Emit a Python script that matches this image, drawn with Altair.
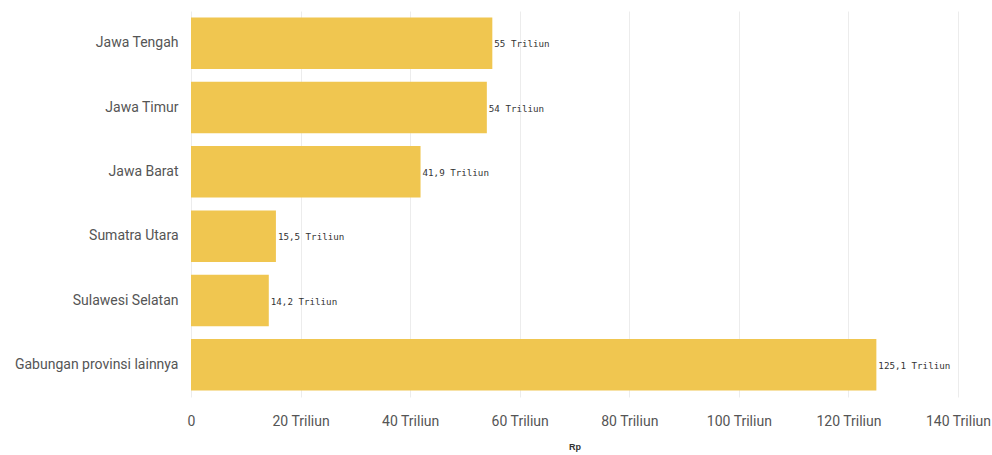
import altair as alt
import pandas as pd

provinces = ["Jawa Tengah", "Jawa Timur", "Jawa Barat", "Sumatra Utara",
             "Sulawesi Selatan", "Gabungan provinsi lainnya"]
values = [55, 54, 41.9, 15.5, 14.2, 125.1]


def fmt(v):
    s = ("%g" % v).replace(".", ",")
    return s + " Triliun"


df = pd.DataFrame({"prov": provinces, "val": values,
                   "lbl": [fmt(v) for v in values]})

base = alt.Chart(df)

bars = base.mark_bar(color="#F0C650").encode(
    x=alt.X("val:Q",
            scale=alt.Scale(domain=[0, 140], nice=False),
            axis=alt.Axis(values=[0, 20, 40, 60, 80, 100, 120, 140],
                          labelExpr="datum.value == 0 ? '0' : datum.value + ' Triliun'",
                          title="Rp", titleFontSize=9, titleFontWeight="bold",
                          titleColor="#333", titlePadding=14,
                          labelFont="Roboto", labelFontSize=14, labelColor="#555",
                          labelFlush=False, labelOverlap=False,
                          labelPadding=17, domain=False, ticks=False,
                          grid=True, gridColor="#ececec", gridWidth=1)),
    y=alt.Y("prov:N", sort=provinces,
            scale=alt.Scale(paddingInner=0.2, paddingOuter=0.1),
            axis=alt.Axis(title=None, domain=False, ticks=False,
                          labelFont="Roboto", labelFontSize=14,
                          labelColor="#555", labelPadding=13)),
)

text = base.mark_text(align="left", baseline="middle", dx=2, dy=1,
                      font="DejaVu Sans Mono", fontSize=9.2, color="#333").encode(
    x="val:Q",
    y=alt.Y("prov:N", sort=provinces),
    text="lbl:N",
)

chart = (bars + text).properties(
    width=767, height=386,
    autosize=alt.AutoSizeParams(type="none"),
    padding={"left": 191, "top": 11, "right": 34, "bottom": 58},
).configure_view(stroke=None)

chart.save("out.html", embed_options={"renderer": "svg", "actions": False})
